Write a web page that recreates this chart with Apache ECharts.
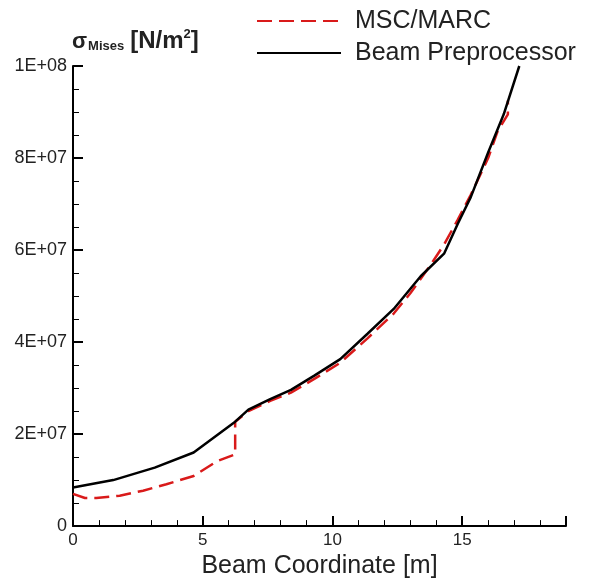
<!DOCTYPE html>
<html>
<head>
<meta charset="utf-8">
<script src="https://cdn.jsdelivr.net/npm/echarts@6/dist/echarts.min.js"></script>
<style>
  html, body { margin: 0; padding: 0; background: #fff; }
  #chart { width: 595px; height: 584px; }
</style>
</head>
<body>
<div id="chart"></div>
<script>
// Beam Preprocessor (solid black)
var bpX = [0, 1.55, 3.15, 4.65, 6.25, 6.76, 7.6, 8.4, 9.3, 10.3, 11.35, 12.36, 13.4, 14.3, 14.83, 15.33, 16.0, 16.6, 17.2]
var bpY = [8.4e6, 1.0e7, 1.27e7, 1.6e7, 2.27e7, 2.53e7, 2.76e7, 2.96e7, 3.27e7, 3.63e7, 4.18e7, 4.72e7, 5.43e7, 5.92e7, 6.57e7, 7.15e7, 8.12e7, 8.95e7, 1.0e8]
// MSC/MARC (red dashed)
var msX = [0, 0.46, 0.9, 1.8, 2.7, 3.6, 4.65, 5.55, 6.25, 6.25, 6.76, 7.6, 8.4, 9.3, 10.3, 11.35, 12.36, 13.0, 13.8, 14.3, 14.83, 15.33, 16.0, 16.37, 16.76, 16.76]
var msY = [7.0e6, 6.1e6, 6.1e6, 6.6e6, 7.7e6, 9.1e6, 1.09e7, 1.41e7, 1.56e7, 2.27e7, 2.5e7, 2.72e7, 2.9e7, 3.2e7, 3.55e7, 4.08e7, 4.62e7, 5.06e7, 5.69e7, 6.12e7, 6.66e7, 7.2e7, 8.0e7, 8.59e7, 8.95e7, 9.25e7]

var font = 'Liberation Sans, Arial, Helvetica, sans-serif'
var textColor = '#222'

function pairs (xs, ys) {
  return xs.map(function (x, i) { return [x, ys[i]] })
}

// 2E+07 style labels
function expLabel (v) {
  if (v === 0) return '0'
  var p = v.toExponential(0).split('e')
  var e = parseInt(p[1], 10)
  var s = e < 0 ? '-' : '+'
  e = Math.abs(e)
  return p[0] + 'E' + s + (e < 10 ? '0' + e : e)
}

var chart = echarts.init(document.getElementById('chart'))
var option = {
  animation: false,
  backgroundColor: '#fff',
  title: {
    left: 67,
    top: 18,
    text: '{s|σ}{sub|Mises} {b|[N/m}{sup|2}{b|]}',
    textStyle: {
      rich: {
        s: { fontSize: 22, fontFamily: font, color: textColor, lineHeight: 30, verticalAlign: 'bottom' },
        sub: { fontSize: 13, fontWeight: 'bold', fontFamily: font, color: textColor, padding: [12, 1, 0, 1], verticalAlign: 'bottom' },
        b: { fontSize: 24, fontWeight: 'bold', fontFamily: font, color: textColor, lineHeight: 30, verticalAlign: 'bottom' },
        sup: { fontSize: 13, fontWeight: 'bold', fontFamily: font, color: textColor, padding: [0, 0, 12, 0], verticalAlign: 'bottom' }
      }
    }
  },
  legend: {
    orient: 'vertical',
    left: 251,
    top: 2,
    itemWidth: 84,
    itemHeight: 14,
    itemGap: 4,
    itemStyle: { opacity: 0 },
    textStyle: {
      fontSize: 25,
      fontFamily: font,
      color: textColor,
      lineHeight: 28,
      padding: [0, 0, 0, 9]
    },
    data: ['MSC/MARC', 'Beam Preprocessor']
  },
  grid: {
    left: 73,
    right: 29,
    top: 66,
    bottom: 52,
    containLabel: false
  },
  xAxis: {
    type: 'value',
    min: 0,
    max: 19,
    interval: 5,
    name: 'Beam Coordinate [m]',
    nameLocation: 'middle',
    nameGap: 27,
    nameTextStyle: { fontSize: 25, fontFamily: font, color: textColor },
    axisLine: { show: true, lineStyle: { color: '#000', width: 2 } },
    axisTick: { show: true, inside: true, length: 10, lineStyle: { color: '#000', width: 2 } },
    minorTick: { show: true, splitNumber: 5, length: 6, lineStyle: { color: '#000', width: 1 } },
    axisLabel: { fontSize: 17, fontFamily: font, color: textColor, margin: 6, showMaxLabel: false },
    splitLine: { show: false }
  },
  yAxis: {
    type: 'value',
    min: 0,
    max: 1e8,
    interval: 2e7,
    axisLine: { show: true, lineStyle: { color: '#000', width: 2 } },
    axisTick: { show: true, inside: true, length: 10, lineStyle: { color: '#000', width: 2 } },
    minorTick: { show: true, splitNumber: 4, length: 6, lineStyle: { color: '#000', width: 1 } },
    axisLabel: { fontSize: 18, fontFamily: font, color: textColor, margin: 6, formatter: expLabel },
    splitLine: { show: false }
  },
  series: [
    {
      name: 'MSC/MARC',
      type: 'line',
      data: pairs(msX, msY),
      symbol: 'none',
      z: 2,
      lineStyle: { color: '#d91a1a', width: 2.5, type: [15, 7] },
      itemStyle: { color: '#d91a1a' }
    },
    {
      name: 'Beam Preprocessor',
      type: 'line',
      data: pairs(bpX, bpY),
      symbol: 'none',
      z: 3,
      lineStyle: { color: '#000', width: 2.5 },
      itemStyle: { color: '#000' }
    }
  ]
}
chart.setOption(option)
</script>
</body>
</html>
